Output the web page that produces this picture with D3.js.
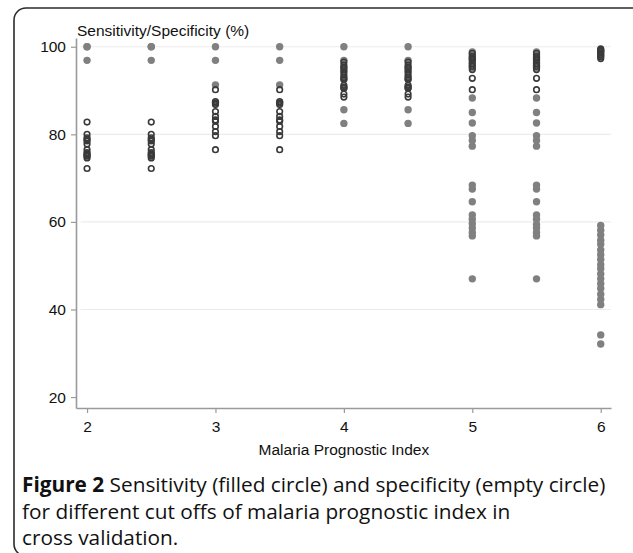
<!DOCTYPE html>
<html>
<head>
<meta charset="utf-8">
<script src="https://cdn.jsdelivr.net/npm/d3@7"></script>
<style>
  body { margin: 0; background: #fff; }
  svg { display: block; }
</style>
</head>
<body>
<svg id="chart" width="633" height="553"></svg>
<script>
// cut offs of the malaria prognostic index
var cutoffs = [2, 2.5, 3, 3.5, 4, 4.5, 5, 5.5, 6];

// sensitivity (filled circles), one list per cut off
var sensitivity = [
  [100, 100, 96.9],
  [100, 100, 96.9],
  [100, 96.9, 91.3, 87.3],
  [100, 96.9, 91.3, 87.3],
  [100, 96.9, 94.5, 92.5, 90.6, 85.6, 82.5],
  [100, 96.9, 94.5, 92.5, 90.6, 85.6, 82.5],
  [98.8, 98.2, 97.5, 97, 96.4, 95.8, 95.2, 88.3, 85, 82.6, 79.7, 78.6, 77.3, 68.4, 67.5, 64.6, 61.6, 60.6, 59.6, 58.6, 57.6, 56.8, 47],
  [98.8, 98.2, 97.5, 97, 96.4, 95.8, 95.2, 88.3, 85, 82.6, 79.7, 78.6, 77.3, 68.4, 67.5, 64.6, 61.6, 60.6, 59.4, 58.6, 57.6, 56.8, 47],
  [99.2, 98.6, 98, 59.2, 58.1, 57, 55.8, 54.9, 53.6, 52.5, 51.4, 50.2, 49.3, 48.1, 47, 45.9, 44.8, 43.5, 42.3, 41.1, 34.2, 32.1]
];

// specificity (empty circles), one list per cut off
var specificity = [
  [82.8, 80, 79.2, 78.8, 78.5, 77.8, 76.5, 75.8, 75.5, 75.2, 75, 74.6, 72.2],
  [82.8, 80, 79.2, 78.8, 78.5, 77.8, 76.5, 75.8, 75.5, 75.2, 75, 74.6, 72.2],
  [90.2, 87.5, 87.1, 86.8, 85.2, 84.1, 83.3, 83, 81.8, 80.6, 79.7, 76.5],
  [90.2, 87.5, 87.1, 86.8, 85.2, 84.1, 83.3, 83, 81.8, 80.6, 79.7, 76.5],
  [96.5, 95.8, 95.3, 95, 94.2, 93.5, 93, 92.6, 91.2, 90.8, 90.5, 89.2, 88.5],
  [96.5, 95.8, 95.3, 95, 94.2, 93.5, 93, 92.6, 91.2, 90.8, 90.5, 89.2, 88.5],
  [98.5, 97.8, 97.4, 97, 96.2, 95.5, 94.8, 92.8, 90.2],
  [98.5, 97.8, 97.4, 97, 96.2, 95.5, 94.8, 92.8, 90.2],
  [99.5, 99.2, 99, 98.6, 98.1, 97.7, 97.3]
];

var xTicks = [2, 3, 4, 5, 6];
var yTicks = [20, 40, 60, 80, 100];
var yTitle = "Sensitivity/Specificity (%)";
var xTitle = "Malaria Prognostic Index";
var captionLines = [
  ["Figure 2", " Sensitivity (filled circle) and specificity (empty circle)"],
  ["", "for different cut offs of malaria prognostic index in"],
  ["", "cross validation."]
];

var svg = d3.select("#chart");
var sans = "Liberation Sans, Arial, sans-serif";

// frame round the figure
svg.append("rect")
  .attr("x", 14).attr("y", 8)
  .attr("width", 630).attr("height", 548)
  .attr("rx", 12).attr("ry", 12)
  .attr("fill", "#fff")
  .attr("stroke", "#2b2b2b")
  .attr("stroke-width", 1.6);

var x = d3.scaleLinear().domain([1.914, 6.08]).range([76, 611]);
var y = d3.scaleLinear().domain([17.5, 102]).range([408, 38]);

// grid
svg.append("g")
  .selectAll("line")
  .data(yTicks.filter(function(d) { return d > 20; }))
  .enter().append("line")
    .attr("x1", x(1.95)).attr("x2", x(6.08))
    .attr("y1", function(d) { return y(d); })
    .attr("y2", function(d) { return y(d); })
    .attr("stroke", "#ececec")
    .attr("stroke-width", 1.2);

var yAxis = svg.append("g")
  .attr("transform", "translate(76,0)")
  .call(d3.axisLeft(y).tickValues(yTicks).tickSize(5).tickSizeOuter(0).tickPadding(5));

var xAxis = svg.append("g")
  .attr("transform", "translate(0,408)")
  .call(d3.axisBottom(x).tickValues(xTicks).tickFormat(d3.format("d"))
    .tickSize(5).tickSizeOuter(0).tickPadding(8));

[yAxis, xAxis].forEach(function(a) {
  a.select(".domain").attr("stroke", "#9a9a9a").attr("stroke-width", 1.6);
  a.selectAll(".tick line").attr("stroke", "#9a9a9a").attr("stroke-width", 1.2);
  a.selectAll(".tick text")
    .attr("fill", "#111")
    .style("font-family", sans)
    .style("font-size", "15.5px");
});

svg.append("text")
  .attr("x", 77).attr("y", 36)
  .attr("fill", "#111")
  .style("font-family", sans)
  .style("font-size", "15.5px")
  .text(yTitle);

svg.append("text")
  .attr("x", x(4)).attr("y", 455)
  .attr("text-anchor", "middle")
  .attr("fill", "#111")
  .style("font-family", sans)
  .style("font-size", "15.5px")
  .text(xTitle);

// points
var sensPts = [], specPts = [];
cutoffs.forEach(function(c, i) {
  sensitivity[i].forEach(function(v) { sensPts.push({c: c, v: v}); });
  specificity[i].forEach(function(v) { specPts.push({c: c, v: v}); });
});

svg.append("g").selectAll("circle")
  .data(sensPts)
  .enter().append("circle")
    .attr("cx", function(d) { return x(d.c); })
    .attr("cy", function(d) { return y(d.v); })
    .attr("r", 3.7)
    .attr("fill", "#808080");

svg.append("g").selectAll("circle")
  .data(specPts)
  .enter().append("circle")
    .attr("cx", function(d) { return x(d.c); })
    .attr("cy", function(d) { return y(d.v); })
    .attr("r", 2.8)
    .attr("fill", "none")
    .attr("stroke", "#3a3a3a")
    .attr("stroke-width", 1.6);

// caption
var cap = svg.append("g");
captionLines.forEach(function(l, i) {
  var t = cap.append("text")
    .attr("x", 22).attr("y", 492 + i * 26.5)
    .attr("fill", "#111")
    .style("font-family", "Open Sans, Noto Sans, sans-serif")
    .style("font-size", "20.8px");
  if (l[0]) t.append("tspan").style("font-weight", "bold").text(l[0]);
  t.append("tspan").text(l[1]);
});
</script>
</body>
</html>
